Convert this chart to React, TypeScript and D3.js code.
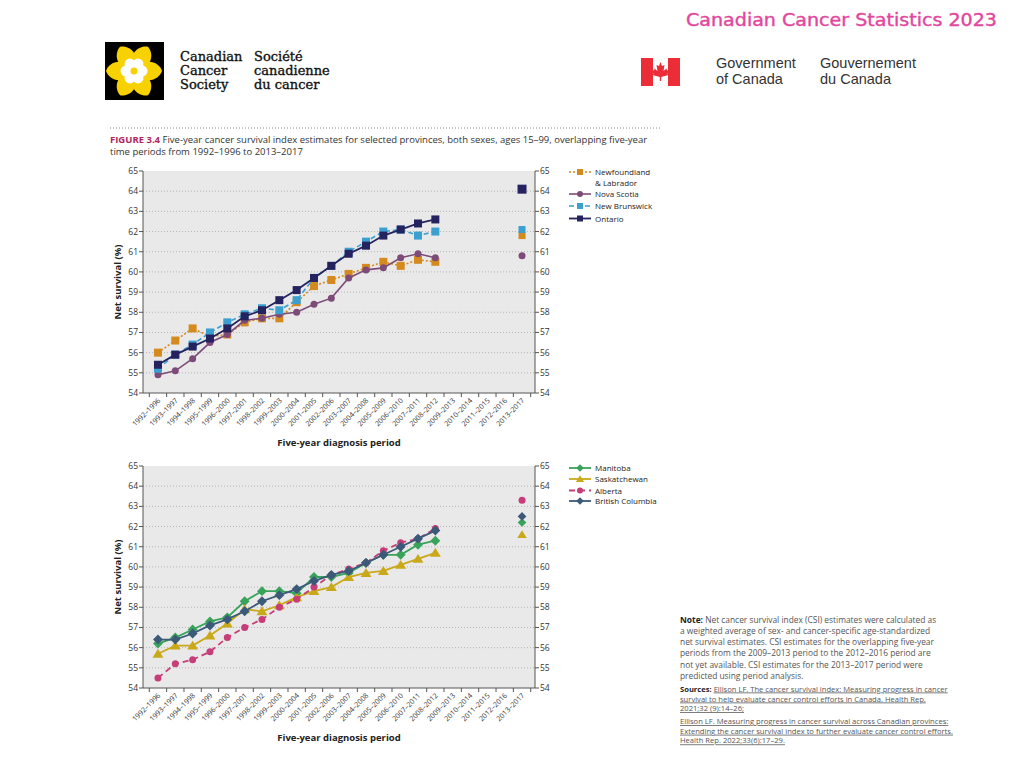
import React from "react";
import * as d3 from "d3";

const periods = [
  "1992–1996", "1993–1997", "1994–1998", "1995–1999", "1996–2000", "1997–2001",
  "1998–2002", "1999–2003", "2000–2004", "2001–2005", "2002–2006", "2003–2007",
  "2004–2008", "2005–2009", "2006–2010", "2007–2011", "2008–2012", "2009–2013",
  "2010–2014", "2011–2015", "2012–2016", "2013–2017",
];
const predictedPeriod = "2013–2017";
const yTicks = [54, 55, 56, 57, 58, 59, 60, 61, 62, 63, 64, 65];

// Top panel
const nlValues = [56.0, 56.6, 57.2, 56.8, 56.9, 57.5, 57.7, 57.7, 58.5, 59.3, 59.6, 59.9, 60.2, 60.5, 60.3, 60.6, 60.5];
const nsValues = [54.9, 55.1, 55.7, 56.5, 56.9, 57.6, 57.7, 57.9, 58.0, 58.4, 58.7, 59.7, 60.1, 60.2, 60.7, 60.9, 60.7];
const nbValues = [55.2, 55.9, 56.4, 57.0, 57.5, 57.9, 58.2, 58.1, 58.6, 59.7, 60.3, 61.0, 61.5, 62.0, 62.1, 61.8, 62.0];
const onValues = [55.4, 55.9, 56.3, 56.7, 57.2, 57.8, 58.1, 58.6, 59.1, 59.7, 60.3, 60.9, 61.3, 61.8, 62.1, 62.4, 62.6];
const topPredicted = [61.8, 60.8, 62.1, 64.1];

// Bottom panel
const mbValues = [56.2, 56.5, 56.9, 57.3, 57.5, 58.3, 58.8, 58.8, 58.7, 59.5, 59.5, 59.7, 60.2, 60.6, 60.6, 61.1, 61.3];
const skValues = [55.7, 56.1, 56.1, 56.6, 57.2, 57.9, 57.8, 58.1, 58.5, 58.8, 59.0, 59.5, 59.7, 59.8, 60.1, 60.4, 60.7];
const abValues = [54.5, 55.2, 55.4, 55.8, 56.5, 57.0, 57.4, 58.0, 58.4, 59.0, 59.6, 59.9, 60.2, 60.8, 61.2, 61.4, 61.9];
const bcValues = [56.4, 56.4, 56.7, 57.1, 57.4, 57.8, 58.3, 58.6, 58.9, 59.3, 59.6, 59.8, 60.2, 60.6, 61.0, 61.4, 61.8];
const bottomPredicted = [62.2, 61.6, 63.3, 62.5];

type Shape = "square" | "circle" | "diamond" | "triangle";
type Series = { name: string[]; values: number[]; predicted: number; color: string; dash: string | null; shape: Shape; width: number };

const topSeries: Series[] = [
  { name: ["Newfoundland", "& Labrador"], values: nlValues, predicted: topPredicted[0], color: "#D58A1E", dash: "2,2", shape: "square", width: 1.6 },
  { name: ["Nova Scotia"], values: nsValues, predicted: topPredicted[1], color: "#7D4B78", dash: null, shape: "circle", width: 1.6 },
  { name: ["New Brunswick"], values: nbValues, predicted: topPredicted[2], color: "#3B9FCF", dash: "5,3", shape: "square", width: 1.6 },
  { name: ["Ontario"], values: onValues, predicted: topPredicted[3], color: "#25235F", dash: null, shape: "square", width: 1.8 },
];
const bottomSeries: Series[] = [
  { name: ["Manitoba"], values: mbValues, predicted: bottomPredicted[0], color: "#3AA35B", dash: null, shape: "diamond", width: 1.8 },
  { name: ["Saskatchewan"], values: skValues, predicted: bottomPredicted[1], color: "#C9A919", dash: null, shape: "triangle", width: 1.8 },
  { name: ["Alberta"], values: abValues, predicted: bottomPredicted[2], color: "#C63D77", dash: "6,4", shape: "circle", width: 1.8 },
  { name: ["British Columbia"], values: bcValues, predicted: bottomPredicted[3], color: "#3B5A79", dash: null, shape: "diamond", width: 1.8 },
];

const FONT = "'Open Sans', 'DejaVu Sans', sans-serif";

function Marker({ shape, x, y, color, size }: { shape: Shape; x: number; y: number; color: string; size: number }) {
  if (shape === "square") return <rect x={x - size / 2} y={y - size / 2} width={size} height={size} fill={color} />;
  if (shape === "circle") return <circle cx={x} cy={y} r={size / 2} fill={color} />;
  if (shape === "diamond") {
    const s = size * 0.62;
    return <path d={`M${x},${y - s}L${x + s},${y}L${x},${y + s}L${x - s},${y}Z`} fill={color} />;
  }
  const s = size * 0.62;
  return <path d={`M${x},${y - s}L${x + s * 1.1},${y + s * 0.8}L${x - s * 1.1},${y + s * 0.8}Z`} fill={color} />;
}

function Panel({ top, series, legendY }: { top: number; series: Series[]; legendY: number[] }) {
  const left = 143, right = 535, height = 222;
  const x = d3.scaleBand<string>().domain(periods).range([149.3, 530.7]).paddingInner(0).paddingOuter(0);
  const y = d3.scaleLinear().domain([54, 65]).range([top + height, top]);
  const cx = (p: string) => (x(p) as number) + x.bandwidth() / 2;
  const line = d3.line<number>().x((_, i) => cx(periods[i])).y((d) => y(d));
  const boundaries = periods.map((p) => x(p) as number).concat([530.7]);
  return (
    <g fontFamily={FONT}>
      <rect x={left} y={top} width={right - left} height={height} fill="#E9E9E9" />
      {yTicks.slice(1, -1).map((t) => (
        <line key={t} x1={left} x2={right} y1={y(t)} y2={y(t)} stroke="#A8A8A8" strokeWidth={0.8} strokeDasharray="1,2" />
      ))}
      <line x1={left} x2={left} y1={top} y2={top + height} stroke="#555" strokeWidth={1} />
      <line x1={right} x2={right} y1={top} y2={top + height} stroke="#555" strokeWidth={1} />
      <line x1={left} x2={right} y1={top + height} y2={top + height} stroke="#555" strokeWidth={1} />
      {yTicks.map((t) => (
        <g key={t}>
          <line x1={left - 4} x2={left} y1={y(t)} y2={y(t)} stroke="#555" />
          <line x1={right} x2={right + 4} y1={y(t)} y2={y(t)} stroke="#555" />
          <text x={left - 5} y={y(t) + 3} fontSize={8.5} textAnchor="end" fill="#333">{t}</text>
          <text x={right + 5} y={y(t) + 3} fontSize={8.5} textAnchor="start" fill="#333">{t}</text>
        </g>
      ))}
      {boundaries.map((b, i) => (
        <line key={i} x1={b} x2={b} y1={top + height} y2={top + height + 4} stroke="#555" />
      ))}
      {periods.map((p) => (
        <text key={p} transform={`translate(${cx(p) + 3},${top + height + 8}) rotate(-45)`} fontSize={7.2} textAnchor="end" fill="#333">{p}</text>
      ))}
      <text x={339} y={top + height + 53} fontSize={9.5} fontWeight="bold" textAnchor="middle" fill="#222">Five-year diagnosis period</text>
      <text transform={`translate(121,${top + height / 2}) rotate(-90)`} fontSize={9.5} fontWeight="bold" textAnchor="middle" fill="#222">Net survival (%)</text>
      {series.map((s, si) => (
        <g key={si}>
          <path d={line(s.values) || ""} fill="none" stroke={s.color} strokeWidth={s.width} strokeDasharray={s.dash || undefined} />
          {s.values.map((v, i) => (
            <Marker key={i} shape={s.shape} x={cx(periods[i])} y={y(v)} color={s.color} size={s.shape === "circle" ? 7 : 8} />
          ))}
          <Marker shape={s.shape} x={cx(predictedPeriod)} y={y(s.predicted)} color={s.color} size={s.shape === "circle" ? 7 : s.name[0] === "Ontario" ? 9 : 7} />
        </g>
      ))}
      {series.map((s, si) => (
        <g key={"lg" + si}>
          <line x1={569} x2={591} y1={legendY[si]} y2={legendY[si]} stroke={s.color} strokeWidth={s.width} strokeDasharray={s.dash || undefined} />
          <Marker shape={s.shape} x={580} y={legendY[si]} color={s.color} size={6} />
          {s.name.map((n, k) => (
            <text key={k} x={595} y={legendY[si] + 3 + k * 10.5} fontSize={8} fill="#222">{n}</text>
          ))}
        </g>
      ))}
    </g>
  );
}

const noteLines = [
  "a weighted average of sex- and cancer-specific age-standardized",
  "net survival estimates. CSI estimates for the overlapping five-year",
  "periods from the 2009–2013 period to the 2012–2016 period are",
  "not yet available. CSI estimates for the 2013–2017 period were",
  "predicted using period analysis.",
];
const sourceLines = [
  "survival to help evaluate cancer control efforts in Canada. Health Rep.",
  "2021;32 (9):14–26;",
];
const sourceLines2 = [
  "Ellison LF. Measuring progress in cancer survival across Canadian provinces:",
  "Extending the cancer survival index to further evaluate cancer control efforts.",
  "Health Rep. 2022;33(6):17–29.",
];

function Daffodil() {
  const cx = 134, cy = 71;
  const petals = d3.range(6).map((i) => i * 60 + 30);
  return (
    <g>
      <rect x={105} y={42} width={59} height={58} fill="#000" />
      {petals.map((a) => (
        <path key={a} d={`M${cx},${cy} C${cx - 15},${cy - 11} ${cx - 9},${cy - 25} ${cx},${cy - 28} C${cx + 9},${cy - 25} ${cx + 15},${cy - 11} ${cx},${cy} Z`} fill="#F8D100" transform={`rotate(${a},${cx},${cy})`} />
      ))}
      {d3.range(6).map((i) => (
        <circle key={i} cx={cx + 8 * Math.cos((i * Math.PI) / 3)} cy={cy + 8 * Math.sin((i * Math.PI) / 3)} r={5.5} fill="#fff" />
      ))}
      <circle cx={cx} cy={cy} r={9} fill="#fff" />
      <circle cx={cx} cy={cy} r={3.5} fill="#F8D100" />
    </g>
  );
}

function Flag() {
  const leaf = "M660.5,62 L662,66 L664.5,65 L663.5,71 L666.5,68.5 L667,70.5 L669,70 L667.5,74 L668.5,75 L661.2,77 L661.2,81 L659.8,81 L659.8,77 L652.5,75 L653.5,74 L652,70 L654,70.5 L654.5,68.5 L657.5,71 L656.5,65 L659,66 Z";
  return (
    <g>
      <rect x={641} y={58} width={12} height={28} fill="#EB2D37" />
      <rect x={668} y={58} width={12} height={28} fill="#EB2D37" />
      <path d={leaf} fill="#EB2D37" />
    </g>
  );
}

export default function App() {
  return (
    <svg width={1024} height={768} style={{ position: "absolute", left: 0, top: 0, background: "#fff" }}>
      <text x={686} y={26} fontSize={18} textAnchor="start" fill="#E2479E" fontFamily="'DejaVu Sans', sans-serif" stroke="#E2479E" strokeWidth={0.4} textLength={311} lengthAdjust="spacingAndGlyphs">Canadian Cancer Statistics 2023</text>
      <Daffodil />
      <g fontFamily="'DejaVu Serif', serif" fontSize={13} fill="#111" stroke="#111" strokeWidth={0.35}>
        <text x={180} y={61}>Canadian</text>
        <text x={180} y={75}>Cancer</text>
        <text x={180} y={89}>Society</text>
        <text x={254} y={61}>Société</text>
        <text x={254} y={75}>canadienne</text>
        <text x={254} y={89}>du cancer</text>
      </g>
      <Flag />
      <g fontFamily="'Liberation Sans', Arial, sans-serif" fontSize={14.5} fill="#333">
        <text x={716} y={68}>Government</text>
        <text x={716} y={84}>of Canada</text>
        <text x={820} y={68}>Gouvernement</text>
        <text x={820} y={84}>du Canada</text>
      </g>
      <line x1={110} x2={662} y1={128} y2={128} stroke="#888" strokeDasharray="1,2" />
      <text x={110} y={143} fontSize={9.5} fontFamily={FONT} fill="#333">
        <tspan fill="#B3245F" fontWeight="bold">FIGURE 3.4 </tspan>
        Five-year cancer survival index estimates for selected provinces, both sexes, ages 15–99, overlapping five-year
      </text>
      <text x={110} y={155} fontSize={9.5} fontFamily={FONT} fill="#333">time periods from 1992–1996 to 2013–2017</text>
      <Panel top={171} series={topSeries} legendY={[172, 194, 206, 218.5]} />
      <Panel top={466} series={bottomSeries} legendY={[468, 479, 490.5, 501]} />
      <g fontFamily={FONT} fill="#555">
        <text x={680} y={622.5} fontSize={8.4}>
          <tspan fontWeight="bold" fill="#222">Note:</tspan> Net cancer survival index (CSI) estimates were calculated as
        </text>
        {noteLines.map((l, i) => (
          <text key={i} x={680} y={633.8 + i * 11.25} fontSize={8.4}>{l}</text>
        ))}
        <text x={680} y={691.5} fontSize={7.6}>
          <tspan fontWeight="bold" fill="#222">Sources: </tspan>
          <tspan textDecoration="underline">Ellison LF. The cancer survival index: Measuring progress in cancer</tspan>
        </text>
        {sourceLines.map((l, i) => (
          <text key={i} x={680} y={701.5 + i * 9.7} fontSize={7.6} textDecoration="underline">{l}</text>
        ))}
        {sourceLines2.map((l, i) => (
          <text key={i} x={680} y={724 + i * 9.7} fontSize={7.6} textDecoration="underline">{l}</text>
        ))}
      </g>
    </svg>
  );
}
